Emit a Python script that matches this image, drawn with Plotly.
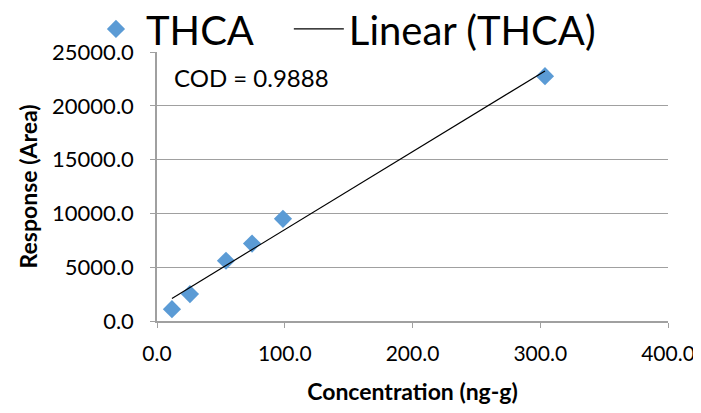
import numpy as np
import plotly.graph_objects as go

conc = [11.7, 25.8, 54.0, 74.4, 98.6, 303.7]
resp = [1100, 2500, 5600, 7200, 9500, 22750]
x_ticks = [0, 100, 200, 300, 400]
y_ticks = [0, 5000, 10000, 15000, 20000, 25000]
cod_text = "COD = 0.9888"
series_name = "THCA"
fit_name = "Linear (THCA)"

slope, intercept = np.polyfit(conc, resp, 1)
fit_x = [min(conc), max(conc)]
fit_y = [slope * v + intercept for v in fit_x]

FONT = "Lato"
fig = go.Figure()
fig.add_trace(go.Scatter(x=conc, y=resp, mode="markers", name=series_name,
                         legend="legend",
                         marker=dict(symbol="diamond", size=14, color="#5B9BD5")))
fig.add_trace(go.Scatter(x=fit_x, y=fit_y, mode="lines", name=fit_name,
                         legend="legend2",
                         line=dict(color="black", width=1.2)))

leg_common = dict(orientation="h", xanchor="left", y=0.965, yanchor="bottom",
                  font=dict(size=40, family=FONT), itemwidth=50,
                  bgcolor="rgba(0,0,0,0)")
fig.update_layout(
    width=693, height=397,
    margin=dict(l=149, r=33, t=44, b=84, autoexpand=False),
    paper_bgcolor="white", plot_bgcolor="white",
    font=dict(family=FONT, color="black", size=22),
    showlegend=True,
    legend=dict(x=-0.139, **leg_common),
    legend2=dict(x=0.258, **leg_common),
    annotations=[dict(text=cod_text, x=0.03, y=0.905, xref="paper", yref="paper",
                      xanchor="left", yanchor="middle", showarrow=False,
                      font=dict(size=24, family=FONT))],
)
fig.update_xaxes(range=[0, 400], tickvals=x_ticks,
                 ticktext=[f"{v:.1f}" for v in x_ticks],
                 tickfont=dict(size=21), ticklabeloverflow="allow",
                 showgrid=False, showline=True, linecolor="#A0A0A0", linewidth=1.5,
                 ticks="outside", ticklen=5, tickcolor="#A0A0A0",
                 ticklabelstandoff=8,
                 zeroline=False,
                 title=dict(text="<b>Concentration (ng-g)</b>", font=dict(size=23), standoff=22))
fig.update_yaxes(range=[0, 25000], tickvals=y_ticks,
                 ticktext=[f"{v:.1f}" for v in y_ticks],
                 ticklabeloverflow="allow",
                 showgrid=True, gridcolor="#A0A0A0", gridwidth=1,
                 showline=True, linecolor="#A0A0A0", linewidth=1.5,
                 ticks="outside", ticklen=5, tickcolor="#A0A0A0",
                 ticklabelstandoff=12,
                 zeroline=False,
                 title=dict(text="<b>Response (Area)</b>", font=dict(size=23), standoff=8))

fig.write_html("out.html")
